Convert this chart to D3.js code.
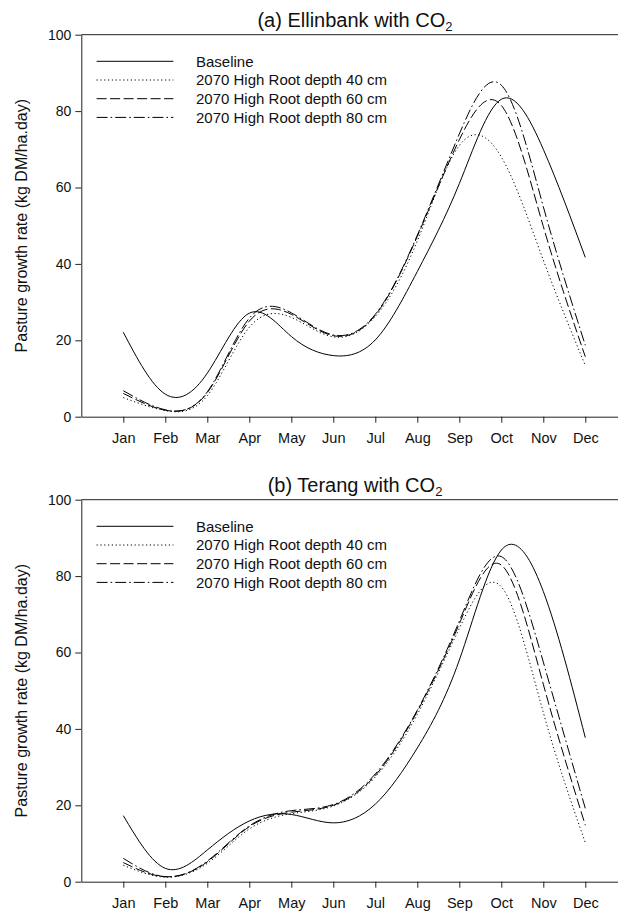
<!DOCTYPE html>
<html>
<head>
<meta charset="utf-8">
<script src="https://cdn.jsdelivr.net/npm/d3@7"></script>
<style>
  html, body { margin: 0; padding: 0; background: #fff; }
  svg { display: block; font-family: "Liberation Sans", Arial, sans-serif; }
</style>
</head>
<body>
<svg id="chart" width="618" height="915"></svg>
<script>
// Month categories along the x axis
const months = ["Jan", "Feb", "Mar", "Apr", "May", "Jun", "Jul", "Aug", "Sep", "Oct", "Nov", "Dec"];
const yTickValues = [0, 20, 40, 60, 80, 100];
const seriesNames = ["Baseline", "2070 High Root depth 40 cm", "2070 High Root depth 60 cm", "2070 High Root depth 80 cm"];

// (a) Ellinbank, monthly pasture growth rate (kg DM/ha.day)
const ellinbankBaseline = [22.1, 5.9, 11.4, 27.1, 21.0, 16.0, 20.1, 38.0, 61.0, 83.1, 70.0, 41.7];
const ellinbankRoot40   = [5.0, 1.6, 5.5, 23.4, 26.0, 20.9, 26.2, 46.0, 71.0, 68.0, 41.0, 13.4];
const ellinbankRoot60   = [6.1, 1.7, 6.3, 25.0, 26.8, 21.2, 26.6, 47.2, 72.5, 81.5, 49.8, 15.7];
const ellinbankRoot80   = [6.8, 1.8, 6.5, 25.8, 27.2, 21.4, 26.8, 47.5, 74.0, 86.8, 55.0, 18.7];

// (b) Terang, monthly pasture growth rate (kg DM/ha.day)
const terangBaseline = [17.3, 3.5, 8.3, 15.9, 17.6, 15.4, 20.3, 35.0, 58.0, 86.8, 76.0, 37.7];
const terangRoot40   = [4.3, 1.2, 4.8, 13.8, 17.8, 19.8, 27.4, 43.8, 66.3, 77.2, 44.3, 10.2];
const terangRoot60   = [5.0, 1.3, 5.2, 14.4, 18.2, 20.0, 27.8, 44.6, 67.5, 82.9, 51.7, 14.8];
const terangRoot80   = [6.1, 1.3, 5.4, 14.6, 18.6, 20.2, 28.2, 44.9, 68.2, 85.1, 57.5, 19.2];

// Line styles for the four series (solid, dotted, dashed, dash-dot)
const dashStyles = [null, "1.2,2.6", "10,3.5", "11,3,1.6,3"];

const panels = [
  { title: "(a) Ellinbank with CO", top: 0,   series: [ellinbankBaseline, ellinbankRoot40, ellinbankRoot60, ellinbankRoot80] },
  { title: "(b) Terang with CO",    top: 465, series: [terangBaseline, terangRoot40, terangRoot60, terangRoot80] }
];

const svg = d3.select("#chart");
const W = 618;

// Shared horizontal scale: months 0..11, axis starts one month before January
const x = d3.scaleLinear().domain([-1, 12]).range([81.3, 627.3]);

panels.forEach(p => {
  const g = svg.append("g").attr("transform", `translate(0,${p.top})`);
  const y = d3.scaleLinear().domain([0, 100]).range([416.7, 34.7]);

  // Title with subscript 2
  const t = g.append("text")
    .attr("x", 355).attr("y", 27)
    .attr("text-anchor", "middle")
    .attr("font-size", 20)
    .attr("fill", "#111")
    .text(p.title);
  t.append("tspan").attr("font-size", 13).attr("dy", 4).text("2");

  // Top frame line
  g.append("line")
    .attr("x1", x(-1)).attr("x2", W)
    .attr("y1", y(100)).attr("y2", y(100))
    .attr("stroke", "#222").attr("stroke-width", 1);

  // Y axis
  const yAxis = g.append("g")
    .attr("transform", `translate(${x(-1)},0)`)
    .call(d3.axisLeft(y).tickValues(yTickValues).tickSize(6).tickSizeOuter(0).tickPadding(4));
  yAxis.selectAll("text").attr("font-size", 14).attr("fill", "#111").attr("font-family", "Liberation Sans, Arial, sans-serif");
  yAxis.selectAll("line, path").attr("stroke", "#222");

  // X axis
  const xAxis = g.append("g")
    .attr("transform", `translate(0,${y(0)})`)
    .call(d3.axisBottom(x).tickValues(d3.range(12)).tickFormat(i => months[i]).tickSize(6).tickSizeOuter(0).tickPadding(10));
  xAxis.selectAll("text").attr("font-size", 14.5).attr("fill", "#111").attr("font-family", "Liberation Sans, Arial, sans-serif");
  xAxis.selectAll("line, path").attr("stroke", "#222");

  // Y axis title
  g.append("text")
    .attr("transform", `translate(27,${(y(0) + y(100)) / 2}) rotate(-90)`)
    .attr("text-anchor", "middle")
    .attr("font-size", 16)
    .attr("fill", "#111")
    .text("Pasture growth rate (kg DM/ha.day)");

  // Growth curves
  const line = d3.line()
    .x((d, i) => x(i))
    .y(d => y(d))
    .curve(d3.curveNatural);

  p.series.forEach((vals, k) => {
    g.append("path")
      .datum(vals)
      .attr("d", line)
      .attr("fill", "none")
      .attr("stroke", "#000")
      .attr("stroke-width", 1)
      .attr("stroke-dasharray", dashStyles[k]);
  });

  // Legend
  const lg = g.append("g");
  seriesNames.forEach((name, k) => {
    const ly = 61.3 + k * 18.7;
    lg.append("line")
      .attr("x1", 96.6).attr("x2", 173.4)
      .attr("y1", ly).attr("y2", ly)
      .attr("stroke", "#000").attr("stroke-width", 1)
      .attr("stroke-dasharray", dashStyles[k]);
    lg.append("text")
      .attr("x", 196).attr("y", ly).attr("dy", "0.35em")
      .attr("font-size", 15).attr("fill", "#111")
      .text(name);
  });
});
</script>
</body>
</html>
